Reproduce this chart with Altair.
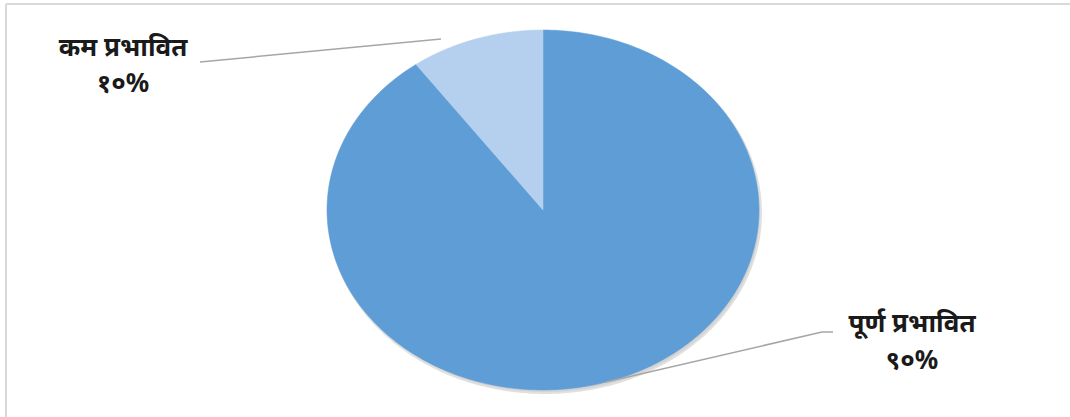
import math
import altair as alt
import pandas as pd

# ---- data ----
categories = ["पूर्ण प्रभावित", "कम प्रभावित"]
values = [90, 10]
pct_labels = ["९०%", "१०%"]

# ---- style / layout ----
slice_colors = ["#5E9DD6", "#B4D0EE"]
W, H = 1070, 417
CX, CY, RX, RY = 543, 210, 216, 180   # pie centre and radii (pixels)
SHADOW_DX, SHADOW_DY = 2, 3
# label centre x, baseline of name line, baseline of percent line
label_pos = {"पूर्ण प्रभावित": (912, 332, 369), "कम प्रभावित": (123, 56, 92)}
leaders = {
    "पूर्ण प्रभावित": [(833, 332), (822, 332), (606, 382)],
    "कम प्रभावित": [(200, 62), (441, 39)],
}

# ---- build slice polygons from the values ----
total = sum(values)
rows = []
start = 0.0
for cat, val in zip(categories, values):
    end = start + val / total * 2 * math.pi
    n = max(4, int(val * 3))
    pts = [(CX, CY)]
    for i in range(n + 1):
        t = start + (end - start) * i / n
        pts.append((CX + RX * math.sin(t), CY - RY * math.cos(t)))
    pts.append((CX, CY))
    for k, (px, py) in enumerate(pts):
        rows.append({"cat": cat, "x": px, "y": py, "k": k})
    start = end
poly = pd.DataFrame(rows)
shadow = poly.assign(x=poly.x + SHADOW_DX, y=poly.y + SHADOW_DY)

xs = alt.Scale(domain=[0, W])
ys = alt.Scale(domain=[0, H], reverse=True)
X = lambda f: alt.X(f, type="quantitative", scale=xs, axis=None)
Y = lambda f: alt.Y(f, type="quantitative", scale=ys, axis=None)

shadow_layers = [
    alt.Chart(shadow[shadow.cat == cat]).mark_line(
        fill="#B0B0B0", stroke="#C8C8C8", strokeWidth=2, opacity=0.55
    ).encode(x=X("x"), y=Y("y"), order="k:Q")
    for cat in categories
]

layers = []
for cat, col in zip(categories, slice_colors):
    layers.append(
        alt.Chart(poly[poly.cat == cat]).mark_line(fill=col, stroke=col, strokeWidth=0.5)
        .encode(x=X("x"), y=Y("y"), order="k:Q")
    )

# leader lines
lrows = []
for cat, pts in leaders.items():
    for k, (px, py) in enumerate(pts):
        lrows.append({"cat": cat, "x": px, "y": py, "k": k})
ldf = pd.DataFrame(lrows)
lead = alt.Chart(ldf).mark_line(color="#A6A6A6", strokeWidth=1.5).encode(
    x=X("x"), y=Y("y"), order="k:Q", detail="cat:N"
)

# labels
tdf = pd.DataFrame({
    "cat": categories,
    "pct": pct_labels,
    "x": [label_pos[c][0] for c in categories],
    "y1": [label_pos[c][1] for c in categories],
    "y2": [label_pos[c][2] for c in categories],
})
txt_style = dict(font="Noto Sans", fontSize=26, fontWeight="bold", color="#1A1A1A",
                 baseline="alphabetic", align="center")
name_text = alt.Chart(tdf).mark_text(**txt_style).encode(
    x=X("x"), y=Y("y1"), text="cat:N")
pct_text = alt.Chart(tdf).mark_text(**txt_style).encode(
    x=X("x"), y=Y("y2"), text="pct:N")

border_top = alt.Chart(tdf).mark_rule(color="#D9D9D9", strokeWidth=2).encode(
    x=alt.value(6), x2=alt.value(W), y=alt.value(4)
)
border_left = alt.Chart(tdf).mark_rule(color="#D9D9D9", strokeWidth=2).encode(
    x=alt.value(6), y=alt.value(4), y2=alt.value(H)
)

chart = alt.layer(border_top, border_left, *shadow_layers, *layers, lead,
                  name_text, pct_text).properties(
    width=W, height=H, padding=0,
    autosize=alt.AutoSizeParams(type="none"),
    background="white",
).configure_view(stroke=None)

chart.save("out.html", embed_options={"renderer": "svg", "actions": False})
